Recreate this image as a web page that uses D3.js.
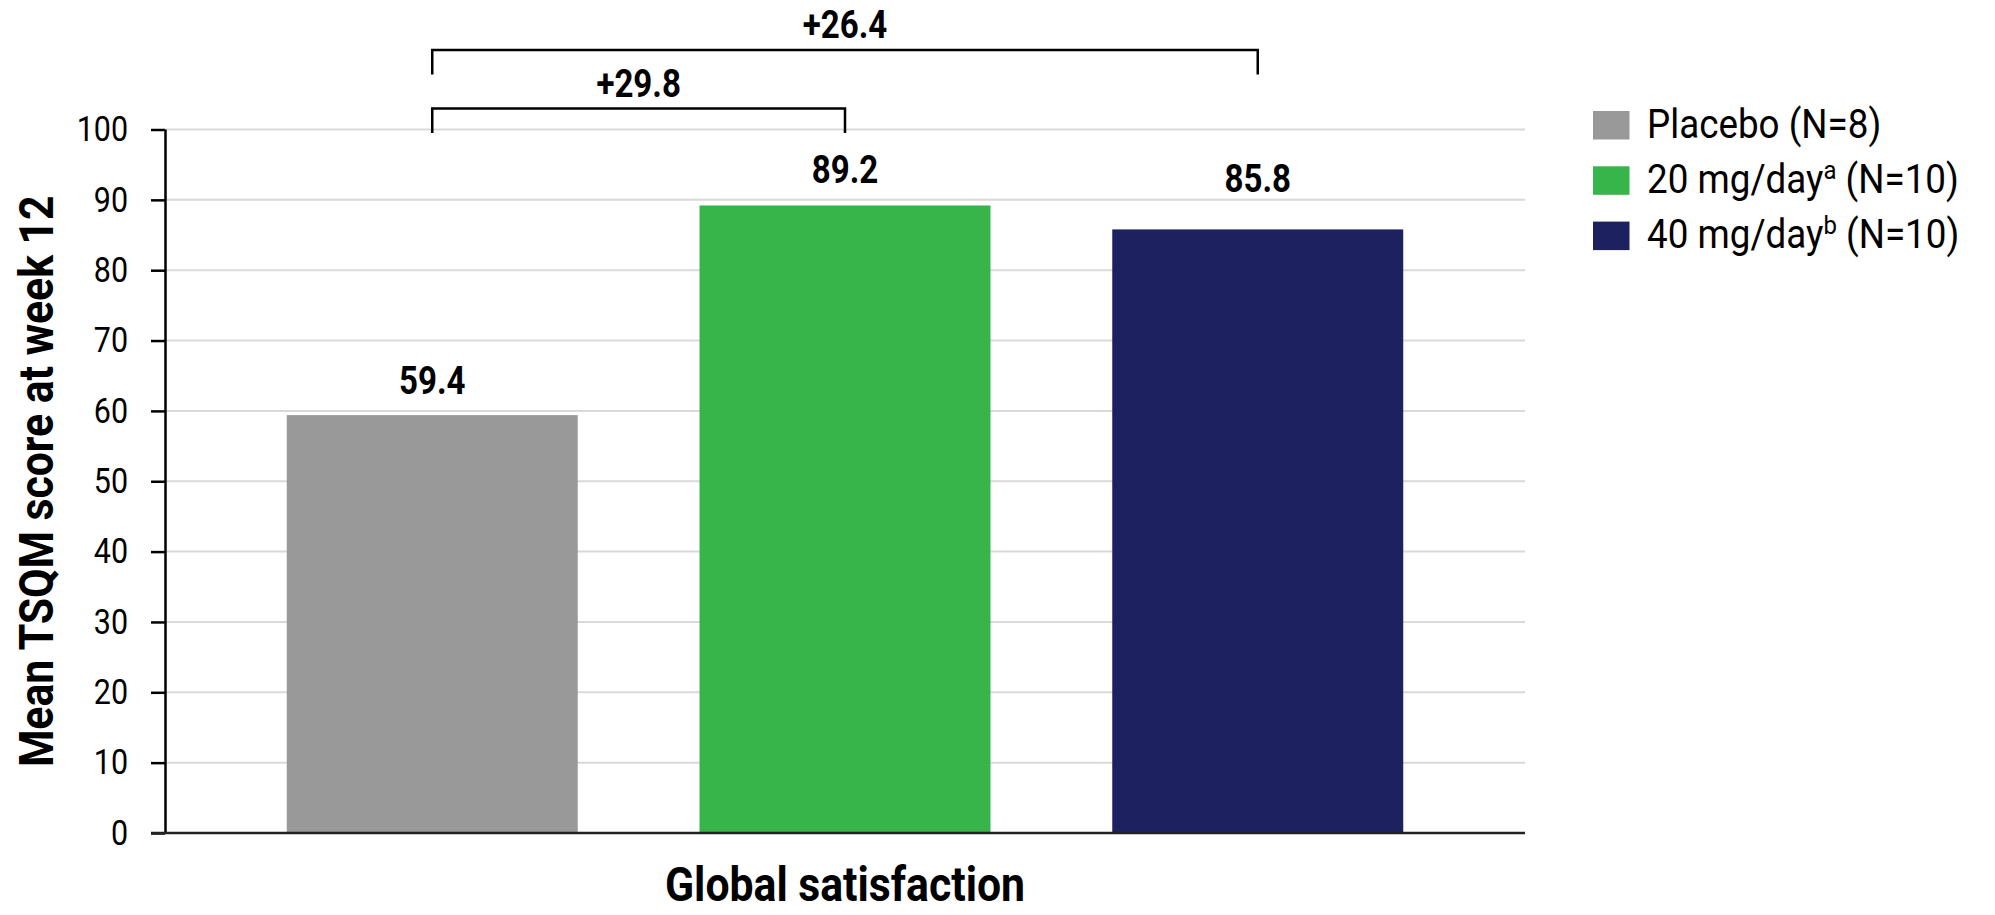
<!DOCTYPE html>
<html>
<head>
<meta charset="utf-8">
<script src="https://cdn.jsdelivr.net/npm/d3@7/dist/d3.min.js"></script>
<style>
  html, body { margin: 0; padding: 0; background: #fff; }
  svg { display: block; }
  text { font-family: Roboto, "Noto Sans", sans-serif; fill: #000; }
</style>
</head>
<body>
<svg id="chart" width="1995" height="915"></svg>
<script>
// ---- data ----
const category = "Global satisfaction";
const groups = ["Placebo", "20 mg/day", "40 mg/day"];
const groupSup = ["", "a", "b"];
const groupN = [8, 10, 10];
const values = [59.4, 89.2, 85.8];
const colors = ["#999999", "#38b54a", "#1d2160"];
const yTicks = [0, 10, 20, 30, 40, 50, 60, 70, 80, 90, 100];
const yTitle = "Mean TSQM score at week 12";
const compareFrom = [0, 0];
const compareTo = [1, 2];
const compareLabels = ["+29.8", "+26.4"];

// ---- layout ----
const W = 1995, H = 915;
const plot = { left: 165, right: 1525, top: 129.5, bottom: 833 };
const narrow = 0.87;               // horizontal squeeze for a condensed look
const labelLift = [21, 22, 37];    // gap between bar top and its value label
const bracketY = [108.5, 50];      // bracket rail per nesting level
const bracketLeg = 24.5;

const svg = d3.select("#chart");

const x = d3.scaleBand().domain(groups).range([plot.left, plot.right]).padding(0.295);
const y = d3.scaleLinear().domain([0, 100]).range([plot.bottom, plot.top]);

// text helper: squeezes horizontally around its own anchor point
function ctext(parent, tx, ty, str, opts) {
  const g = parent.append("g").attr("transform", `translate(${tx},${ty}) scale(${opts.sx ?? narrow},1)`);
  const t = g.append("text")
    .attr("text-anchor", opts.anchor || "middle")
    .attr("font-size", opts.size)
    .attr("font-weight", opts.weight || 400)
    .text(str);
  return t;
}

// gridlines
svg.append("g").selectAll("line")
  .data(yTicks.filter(d => d > 0))
  .join("line")
  .attr("x1", plot.left).attr("x2", plot.right)
  .attr("y1", d => y(d)).attr("y2", d => y(d))
  .attr("stroke", "#d9d9d9").attr("stroke-width", 2);

// bars
svg.append("g").selectAll("rect")
  .data(values)
  .join("rect")
  .attr("x", (d, i) => x(groups[i]))
  .attr("width", x.bandwidth())
  .attr("y", d => y(d))
  .attr("height", d => y(0) - y(d))
  .attr("fill", (d, i) => colors[i]);

// y axis
const tickLen = 14;
const yAxis = svg.append("g")
  .attr("transform", `translate(${plot.left},0)`)
  .call(d3.axisLeft(y).tickValues(yTicks).tickSize(tickLen).tickPadding(23).tickFormat(d3.format("d")));
yAxis.select(".domain").attr("stroke", "#000").attr("stroke-width", 2.5)
  .attr("d", `M0.5,${plot.bottom}V${plot.top}`);
yAxis.selectAll(".tick line").attr("stroke", "#000").attr("stroke-width", 2.5);
yAxis.selectAll(".tick text")
  .attr("font-size", 35)
  .attr("font-family", "Roboto, sans-serif")
  .attr("fill", "#000")
  .each(function () {
    const tx = +d3.select(this).attr("x");
    d3.select(this).attr("transform", `translate(${tx},0) scale(${narrow},1) translate(${-tx},0)`);
  });

// x axis baseline
svg.append("line")
  .attr("x1", plot.left - tickLen).attr("x2", plot.right)
  .attr("y1", y(0)).attr("y2", y(0))
  .attr("stroke", "#222").attr("stroke-width", 2.5);

// value labels
values.forEach((v, i) => {
  ctext(svg, x(groups[i]) + x.bandwidth() / 2, y(v) - labelLift[i], v.toFixed(1), { size: 38, weight: 700 });
});

// comparison brackets
compareLabels.forEach((lab, k) => {
  const x1 = x(groups[compareFrom[k]]) + x.bandwidth() / 2;
  const x2 = x(groups[compareTo[k]]) + x.bandwidth() / 2;
  const ry = bracketY[k];
  svg.append("path")
    .attr("d", d3.line()([[x1, ry + bracketLeg], [x1, ry], [x2, ry], [x2, ry + bracketLeg]]))
    .attr("fill", "none").attr("stroke", "#000").attr("stroke-width", 2.5);
  ctext(svg, (x1 + x2) / 2, ry - 12, lab, { size: 38, weight: 700 });
});

// axis titles
ctext(svg, (plot.left + plot.right) / 2, 901, category, { size: 48, weight: 700, sx: 0.89 });
svg.append("g")
  .attr("transform", `translate(53,${(plot.top + plot.bottom) / 2}) rotate(-90) scale(0.89,1)`)
  .append("text")
  .attr("text-anchor", "middle")
  .attr("font-size", 48)
  .attr("font-weight", 700)
  .text(yTitle);

// legend
const legend = svg.append("g").attr("transform", "translate(1593,111)");
groups.forEach((name, i) => {
  const row = legend.append("g").attr("transform", `translate(0,${i * 55.3})`);
  row.append("rect").attr("width", 36.5).attr("height", 28.5).attr("fill", colors[i]);
  const t = row.append("g").attr("transform", `translate(54,26.5) scale(0.92,1)`)
    .append("text").attr("font-size", 40);
  t.append("tspan").text(name);
  if (groupSup[i]) {
    t.append("tspan").attr("font-size", 26).attr("dy", -14).text(groupSup[i]);
    t.append("tspan").attr("dy", 14).text(` (N=${groupN[i]})`);
  } else {
    t.append("tspan").text(` (N=${groupN[i]})`);
  }
});
</script>
</body>
</html>
